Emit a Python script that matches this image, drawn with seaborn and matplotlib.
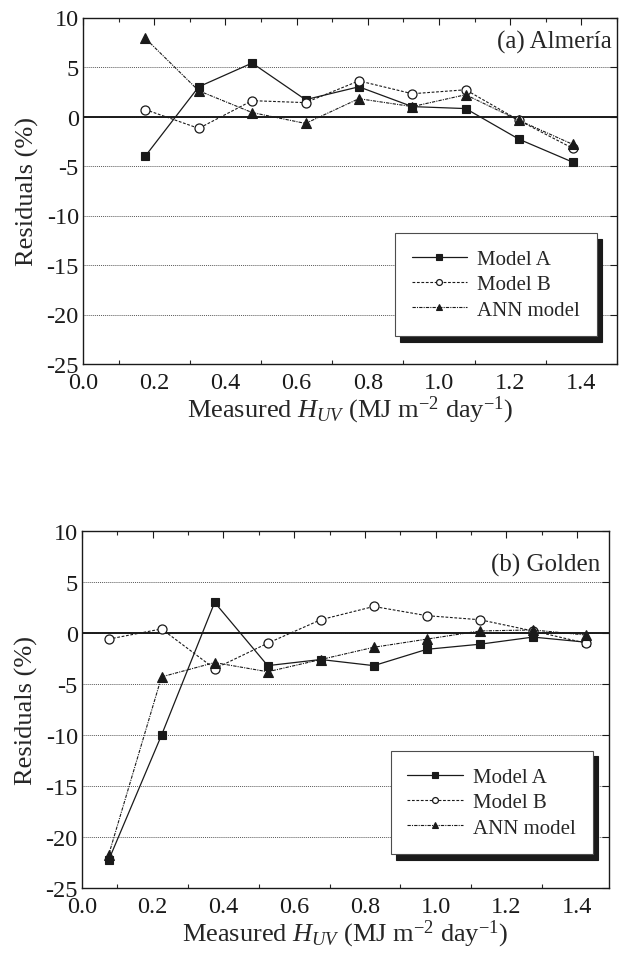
import numpy as np
import pandas as pd
import matplotlib
matplotlib.use("Agg")
import matplotlib.pyplot as plt
from matplotlib.ticker import MultipleLocator, FormatStrFormatter
import seaborn as sns

# ---------------- data ----------------
series_names = ["Model A", "Model B", "ANN model"]

x_almeria = [0.175, 0.325, 0.475, 0.625, 0.775, 0.925, 1.075, 1.225, 1.375]
almeria_model_a = [-4.0, 3.0, 5.4, 1.7, 3.0, 1.0, 0.8, -2.3, -4.6]
almeria_model_b = [0.7, -1.2, 1.6, 1.4, 3.6, 2.3, 2.7, -0.4, -3.2]
almeria_ann = [7.9, 2.6, 0.4, -0.7, 1.8, 1.0, 2.2, -0.4, -2.8]

x_golden = [0.075, 0.225, 0.375, 0.525, 0.675, 0.825, 0.975, 1.125, 1.275, 1.425]
golden_model_a = [-22.3, -10.0, 3.0, -3.2, -2.6, -3.2, -1.6, -1.1, -0.4, -0.9]
golden_model_b = [-0.6, 0.4, -3.5, -1.0, 1.3, 2.6, 1.7, 1.3, 0.2, -1.0]
golden_ann = [-21.8, -4.3, -2.9, -3.8, -2.6, -1.4, -0.6, 0.2, 0.3, -0.2]

panel_titles = ["(a) Almería", "(b) Golden"]
x_ticks = [0.0, 0.2, 0.4, 0.6, 0.8, 1.0, 1.2, 1.4]
y_ticks = [-25, -20, -15, -10, -5, 0, 5, 10]

# ---------------- style ----------------
sns.set_theme(style="white")
plt.rcParams["font.family"] = ["Liberation Serif", "DejaVu Serif"]
plt.rcParams["mathtext.fontset"] = "custom"
plt.rcParams["mathtext.rm"] = "Liberation Serif"
plt.rcParams["mathtext.it"] = "Liberation Serif:italic"
plt.rcParams["axes.unicode_minus"] = False

styles = {
    "Model A": dict(linestyle="-", lw=0.9, marker="s", markersize=6,
                    markerfacecolor="k", markeredgecolor="k", markeredgewidth=0.8),
    "Model B": dict(linestyle=(0, (2.5, 1.5)), lw=0.8, marker="o", markersize=6.5,
                    markerfacecolor="white", markeredgecolor="k", markeredgewidth=0.9),
    "ANN model": dict(linestyle=(0, (3, 1, 1, 1)), lw=0.8, marker="^", markersize=7,
                      markerfacecolor="k", markeredgecolor="k", markeredgewidth=0.8),
}

W, H = 619, 954
fig = plt.figure(figsize=(W / 100, H / 100), dpi=100)


def px_axes(left, right, top, bottom):
    return fig.add_axes([left / W, 1 - bottom / H, (right - left) / W, (bottom - top) / H])


def draw_panel(ax, x, a, b, ann, title, xmax, leg_anchor, title_pos):
    df = pd.DataFrame({"x": x, "Model A": a, "Model B": b, "ANN model": ann})
    for name in series_names:
        sns.lineplot(data=df, x="x", y=name, ax=ax, color="k", label=name,
                     errorbar=None, zorder=3, **styles[name])
    ax.axhline(0, color="k", lw=1.4, zorder=2)
    ax.set_xlim(0, xmax)
    ax.set_ylim(-25, 10)
    ax.set_xticks(x_ticks)
    ax.set_yticks(y_ticks)
    ax.xaxis.set_minor_locator(MultipleLocator(0.1))
    ax.xaxis.set_major_formatter(FormatStrFormatter("%.1f"))
    ax.grid(axis="y", which="major", linestyle=(0, (1, 1)), color="0.35", lw=0.7)
    ax.grid(axis="x", visible=False)
    ax.tick_params(axis="both", which="major", direction="in", top=True, right=True,
                   length=5, width=0.8, labelsize=17.5, colors="k", pad=3)
    ax.tick_params(axis="x", which="major", pad=6)
    ax.tick_params(axis="x", which="minor", direction="in", top=True, bottom=True,
                   length=3, width=0.8)
    for s in ax.spines.values():
        s.set_color("k")
        s.set_linewidth(1.0)
    ax.set_ylabel("Residuals (%)", fontsize=19, labelpad=5)
    ax.set_xlabel("Measured $H_{UV}$ (MJ m$^{-2}$ day$^{-1}$)", fontsize=19, labelpad=0)
    ax.text(title_pos[0], title_pos[1], title, transform=ax.transAxes,
            ha="right", va="center", fontsize=18)
    leg = ax.legend(loc="upper left", bbox_to_anchor=leg_anchor, fontsize=15,
                    frameon=True, fancybox=False, framealpha=1, edgecolor="0.3",
                    handlelength=2.65, handletextpad=0.5, labelspacing=0.27,
                    borderpad=0.8, borderaxespad=0, markerscale=0.65,
                    shadow={"color": "k", "alpha": 1.0, "ox": 4, "oy": -4})
    leg.get_frame().set_linewidth(0.8)


ax1 = px_axes(83, 617, 18.5, 365)
draw_panel(ax1, x_almeria, almeria_model_a, almeria_model_b, almeria_ann,
           panel_titles[0], 1.5, (0.584, 0.378), (0.99, 0.93))

ax2 = px_axes(82, 609, 532, 889)
draw_panel(ax2, x_golden, golden_model_a, golden_model_b, golden_ann,
           panel_titles[1], 1.49, (0.586, 0.384), (0.983, 0.905))

fig.savefig("out.png", dpi=100)
